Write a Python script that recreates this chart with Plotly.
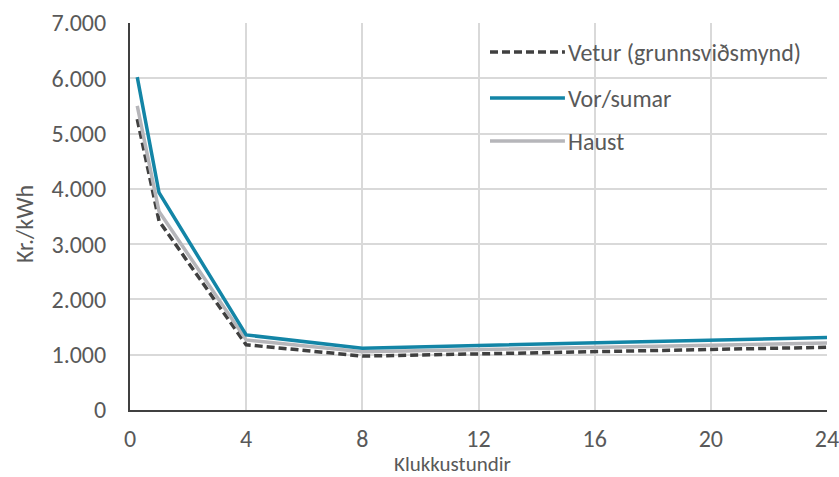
import plotly.graph_objects as go

hours = [0.25, 1, 4, 8, 24]
vetur = [5260, 3420, 1180, 975, 1135]
vor_sumar = [6020, 3930, 1357, 1118, 1312]
haust = [5500, 3590, 1268, 1055, 1210]

names = ["Vetur (grunnsviðsmynd)", "Vor/sumar", "Haust"]
colors = ["#404040", "#1385A6", "#B6B6BA"]
dashes = ["8px,4px", "solid", "solid"]
series = [vetur, vor_sumar, haust]

x_ticks = [0, 4, 8, 12, 16, 20, 24]
y_ticks = [0, 1000, 2000, 3000, 4000, 5000, 6000, 7000]

FONT = "Carlito, Lato, Liberation Sans, sans-serif"
TXT = "#595959"

fig = go.Figure()
draw_order = [0, 2, 1]
for i in draw_order:
    fig.add_trace(go.Scatter(
        x=hours, y=series[i], mode="lines", name=names[i],
        line=dict(color=colors[i], width=3.5, dash=dashes[i]),
        showlegend=False))

# custom legend
leg_y = [0.925, 0.806, 0.695]
for i in range(3):
    fig.add_shape(type="line", xref="paper", yref="paper",
                  x0=0.5165, x1=0.624, y0=leg_y[i], y1=leg_y[i],
                  line=dict(color=colors[i], width=3.5, dash=dashes[i]))
    fig.add_annotation(xref="paper", yref="paper", x=0.626, y=leg_y[i],
                       text=names[i], showarrow=False, xanchor="left",
                       yanchor="middle", font=dict(family=FONT, size=24, color=TXT))

# axis titles
fig.add_annotation(xref="paper", yref="paper", x=0.4634, y=-0.139,
                   text="Klukkustundir", showarrow=False, xanchor="center",
                   yanchor="middle", borderpad=0,
                   font=dict(family=FONT, size=21, color=TXT))
fig.add_annotation(xref="paper", yref="paper", x=-0.152, y=0.4806,
                   text="Kr./kWh", showarrow=False, textangle=-90,
                   xanchor="center", yanchor="middle",
                   font=dict(family=FONT, size=24, color=TXT))

fig.update_layout(
    width=839, height=477,
    margin=dict(l=130, r=12, t=23, b=67),
    paper_bgcolor="white", plot_bgcolor="white",
    separators=",.",
    font=dict(family=FONT, size=24, color=TXT),
    xaxis=dict(range=[0, 24], tickvals=x_ticks, showgrid=True,
               gridcolor="#D9D9D9", gridwidth=1.5, zeroline=False,
               showline=True, linecolor="#404040", linewidth=2,
               ticks="", ticklabelstandoff=6, automargin=False,
               ticklabeloverflow="allow",
               tickfont=dict(family=FONT, size=24, color=TXT)),
    yaxis=dict(range=[0, 7000], tickvals=y_ticks, tickformat=",d",
               showgrid=True, gridcolor="#D9D9D9", gridwidth=1.5,
               zeroline=False, showline=True, linecolor="#404040",
               linewidth=2, ticks="", ticklabelstandoff=17, automargin=False,
               ticklabeloverflow="allow",
               tickfont=dict(family=FONT, size=24, color=TXT)),
)

fig.write_html("out.html", config={"displayModeBar": False},
               post_script="document.body.style.margin='0';document.body.style.overflow='hidden';")
